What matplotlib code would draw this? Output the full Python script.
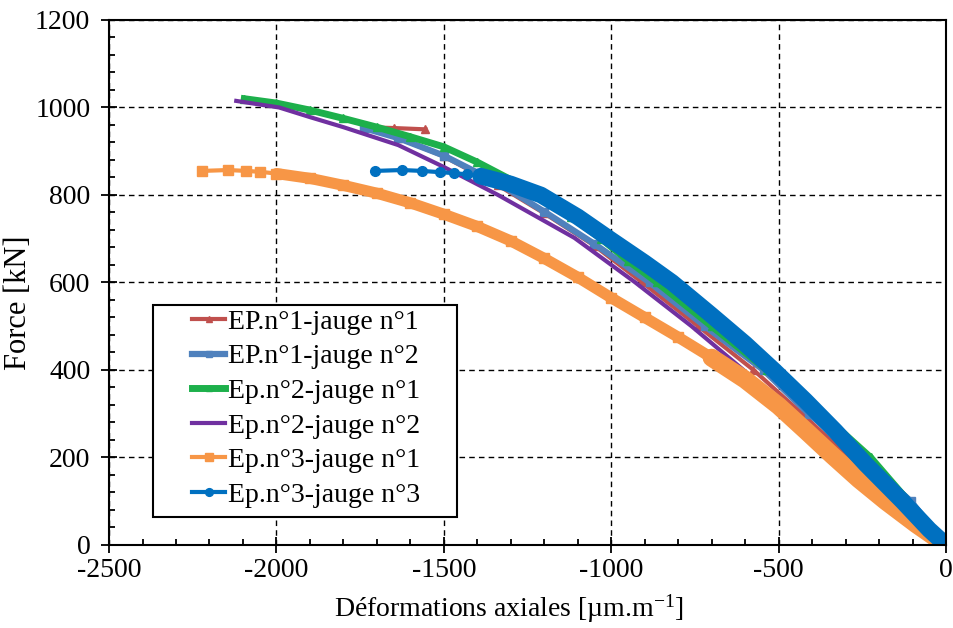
import matplotlib
matplotlib.use("Agg")
import matplotlib.pyplot as plt
from matplotlib.ticker import MultipleLocator
from matplotlib.patches import Rectangle

plt.rcParams['font.family'] = ['Liberation Serif', 'DejaVu Serif']
plt.rcParams['mathtext.fontset'] = 'custom'
plt.rcParams['mathtext.rm'] = 'Liberation Serif'
plt.rcParams['mathtext.it'] = 'Liberation Serif:italic'
plt.rcParams['axes.unicode_minus'] = False

# ---- data ----
labels = ["EP.n°1-jauge n°1", "EP.n°1-jauge n°2", "Ep.n°2-jauge n°1",
          "Ep.n°2-jauge n°2", "Ep.n°3-jauge n°1", "Ep.n°3-jauge n°3"]

ep1_j1_x = [0, -140, -290, -430, -575, -740, -907, -1050, -1200, -1338, -1500, -1636, -1739, -1650, -1555]
ep1_j1_y = [0, 100, 200, 300, 400, 500, 600, 684, 758, 822, 888, 930, 955, 953, 950]

ep1_j2_x = [0, -105, -250, -410, -545, -720, -885, -1050, -1200, -1338, -1500, -1636, -1739]
ep1_j2_y = [0, 100, 200, 300, 400, 500, 600, 688, 762, 827, 890, 930, 953]

ep2_j1_x = [0, -112, -225, -370, -535, -700, -863, -950, -1030, -1120, -1215, -1300, -1400,
            -1500, -1600, -1700, -1800, -1900, -2000, -2096]
ep2_j1_y = [0, 100, 200, 300, 400, 500, 600, 650, 700, 750, 800, 835, 875,
            910, 933, 955, 975, 994, 1010, 1020]

ep2_j2_x = [0, -150, -300, -440, -605, -760, -928, -1110, -1338, -1500, -1636, -1700, -1800, -1900, -1992, -2120]
ep2_j2_y = [0, 95, 195, 285, 400, 500, 600, 702, 800, 864, 914, 930, 955, 978, 1000, 1015]

ep3_j1_x = [0, -90, -180, -260, -340, -420, -500, -600, -700, -800, -900, -1000, -1100, -1200,
            -1300, -1400, -1500, -1600, -1700, -1800, -1900, -2000, -2050, -2090, -2145, -2221]
ep3_j1_y = [0, 48, 100, 150, 205, 262, 318, 378, 428, 475, 520, 565, 612, 655,
            695, 728, 756, 782, 804, 822, 838, 849, 853, 855, 857, 855]

ep3_j3_x = [0, -50, -130, -240, -330, -420, -515, -600, -700, -818, -900, -1000, -1100, -1210, -1300,
            -1390, -1430, -1470, -1510, -1565, -1625, -1705]
ep3_j3_y = [0, 35, 100, 185, 260, 330, 400, 460, 525, 600, 645, 697, 750, 800, 825,
            843, 847, 850, 852, 855, 857, 855]

xticks = [-2500, -2000, -1500, -1000, -500, 0]
yticks = [0, 200, 400, 600, 800, 1000, 1200]

colors = ["#C0504D", "#4F81BD", "#1DB04B", "#7030A0", "#F79646", "#0070C0"]

fig = plt.figure(figsize=(9.54, 6.28), dpi=100)
ax = fig.add_axes([0.1143, 0.1322, 0.8773, 0.836])

# series (order = draw order of reference)
ax.plot(ep1_j1_x, ep1_j1_y, color=colors[0], lw=3, marker='^', ms=6, label=labels[0], zorder=2)
ax.plot(ep1_j2_x, ep1_j2_y, color=colors[1], lw=4.5, marker='s', ms=6, label=labels[1], zorder=3)
ax.plot(ep2_j1_x, ep2_j1_y, color=colors[2], lw=5, marker='^', ms=6, label=labels[2], zorder=4)
ax.plot(ep2_j2_x, ep2_j2_y, color=colors[3], lw=3, label=labels[3], zorder=5)
ax.plot(ep3_j1_x, ep3_j1_y, color=colors[4], lw=3, marker='s', ms=7, label=labels[4], zorder=6)
ax.plot(ep3_j1_x[:22], ep3_j1_y[:22], color=colors[4], lw=8, solid_capstyle='round', zorder=6)
ax.plot(ep3_j1_x[:9], ep3_j1_y[:9], color=colors[4], lw=13, solid_capstyle='round', zorder=6)
ax.plot(ep3_j3_x, ep3_j3_y, color=colors[5], lw=3, marker='o', ms=7, label=labels[5], zorder=7)
ax.plot(ep3_j3_x[:16], ep3_j3_y[:16], color=colors[5], lw=12, solid_capstyle='round', zorder=7)

ax.set_xlim(-2500, 0)
ax.set_ylim(0, 1200)
ax.set_xticks(xticks)
ax.set_yticks(yticks)
ax.xaxis.set_minor_locator(MultipleLocator(100))
ax.yaxis.set_minor_locator(MultipleLocator(40))
ax.tick_params(which='major', direction='inout', length=11, width=1.3, labelsize=20, pad=4)
ax.tick_params(axis='y', which='major', pad=8)
ax.tick_params(which='minor', direction='in', length=4, width=1.3)
ax.tick_params(top=False, right=False, which='both')

ax.grid(True, which='major', color='black', linestyle=(0, (4, 3)), linewidth=1.0, zorder=0)
ax.set_axisbelow(True)
for s in ax.spines.values():
    s.set_linewidth(1.5)
    s.set_zorder(10)

ax.set_xlabel('Déformations axiales [µm.m$^{\\mathregular{-1}}$]', fontsize=20)
ax.xaxis.set_label_coords(0.477, -0.09)
ax.set_ylabel('Force [kN]', fontsize=22)
ax.yaxis.set_label_coords(-0.091, 0.461)

# legend frame (Excel style, wide side padding)
frame = Rectangle((0.0526, 0.0533), 0.3632, 0.4037, transform=ax.transAxes,
                  facecolor='white', edgecolor='black', linewidth=1.5, zorder=19)
ax.add_patch(frame)
leg = ax.legend(loc='upper left', bbox_to_anchor=(0.0992, 0.449), fontsize=20,
                frameon=False, borderpad=0, borderaxespad=0,
                handlelength=1.2, handletextpad=0.1, labelspacing=0.33,
                markerscale=0.8)
leg.set_zorder(20)

fig.savefig("out.png", dpi=100)
